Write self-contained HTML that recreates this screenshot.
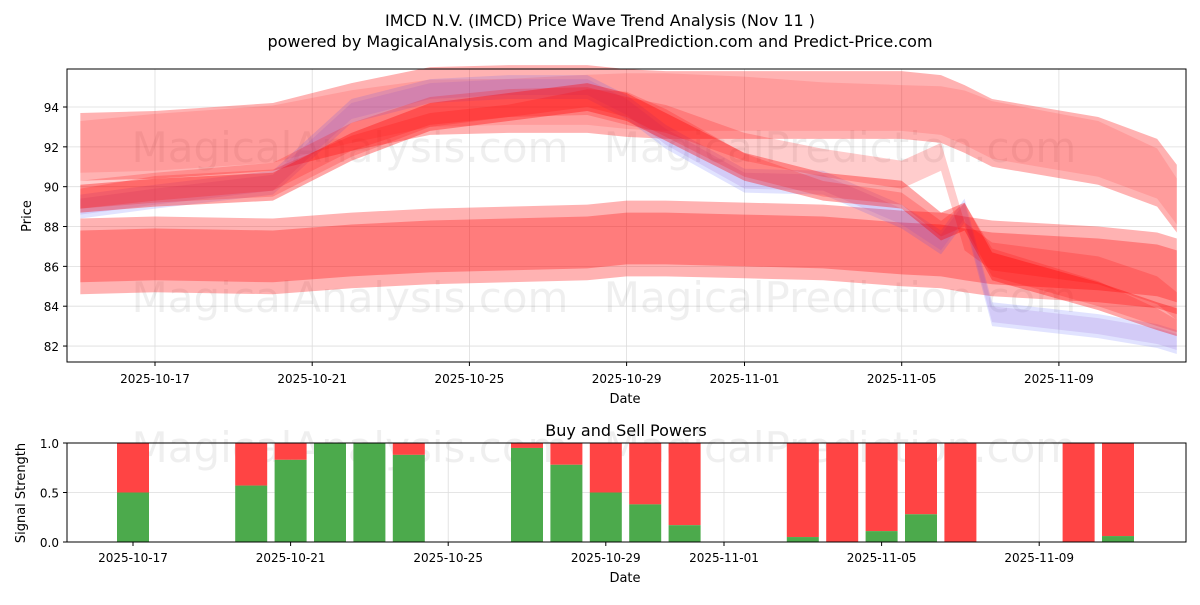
<!DOCTYPE html>
<html><head><meta charset="utf-8">
<style>
body{margin:0;background:#fff;font-family:"Liberation Sans","DejaVu Sans",sans-serif;}
svg text{font-family:"DejaVu Sans","Liberation Sans",sans-serif;fill:#000;}
</style></head>
<body>
<svg id="c" width="1200" height="600" xmlns="http://www.w3.org/2000/svg">
<text x="600" y="26" text-anchor="middle" font-size="16">IMCD N.V. (IMCD) Price Wave Trend Analysis (Nov 11 )</text>
<text x="600" y="47" text-anchor="middle" font-size="16">powered by MagicalAnalysis.com and MagicalPrediction.com and Predict-Price.com</text>
<g id="topg"></g>
<g id="botg"></g>
</svg>
<script>
// ---- data ----
const tickDays=[0,4,8,12,15,19,23];
const tickLabels=["2025-10-17","2025-10-21","2025-10-25","2025-10-29","2025-11-01","2025-11-05","2025-11-09"];
const priceTicks=[82,84,86,88,90,92,94];
const bandDays=[-1.9,0,3,5,7,9,11,12,13,15,17,19,20,20.6,21.3,24,25.5,26];
const bandUpper=[92,92.1,92.5,93.5,94.3,94.4,94.4,94.2,94.1,94.1,94.1,94.1,93.9,93.4,92.7,91.8,90.7,89.4];
const bandLower=[86.5,86.6,86.5,86.8,87,87.1,87.2,87.4,87.4,87.3,87.2,86.9,86.8,86.6,86.4,86.1,85.8,85.5];
const bandMid=[89.4,89.7,90,92,93.5,94,94.5,94,93,91,90,89.6,88,88.5,86,84.5,83.5,83.2];
const bandBlue=[89,89.5,90.2,93.8,94.8,95,95,94,92.5,90.3,90.2,88.5,87.2,88.8,83.6,83,82.5,82.2];
const bandRed2=[89.6,90,90.5,92.5,93.8,94.2,94.3,93.8,93.4,92,91.2,90.6,91.5,87.5,86.5,85.8,84.8,84];
const buyDays=[0,3,4,5,6,7,10,11,12,13,14,17,18,19,20,21,24,25];
const buyVals=[0.5,0.57,0.83,1,1,0.88,0.95,0.78,0.5,0.38,0.17,0.05,0,0.11,0.28,0,0,0.06];
// ---- scales ----
const NS="http://www.w3.org/2000/svg";
const X0=67,X1=1186,TY0=69,TY1=362,BY0=443,BY1=542;
const xt=d=>155+d*39.3;
const yt=v=>107+(94-v)*19.92;
const xb=d=>133+d*39.4;
const yb=v=>BY1-v*(BY1-BY0);
function el(tag,attrs,parent,txt){const e=document.createElementNS(NS,tag);for(const k in attrs)e.setAttribute(k,attrs[k]);if(txt!==undefined)e.textContent=txt;parent.appendChild(e);return e;}
const gTop=document.getElementById('topg'),gBot=document.getElementById('botg');
priceTicks.forEach(v=>{el('line',{x1:X0,x2:X1,y1:yt(v),y2:yt(v),stroke:'#ddd','stroke-width':0.8},gTop);
 const t=el('text',{x:X0-8,y:yt(v)+5,'text-anchor':'end','font-size':12},gTop,String(v));
 
 });
tickDays.forEach((d,i)=>{el('line',{x1:xt(d),x2:xt(d),y1:TY0,y2:TY1,stroke:'#ddd','stroke-width':0.8},gTop);
 el('line',{x1:xt(d),x2:xt(d),y1:TY1,y2:TY1+4,stroke:'#000'},gTop);
 const t=el('text',{x:xt(d),y:TY1+21,'text-anchor':'middle','font-size':12},gTop,tickLabels[i]);
 
 });
[[350,162],[840,162],[350,312],[840,312],[350,462],[840,462]].forEach(p=>{el('text',{x:p[0],y:p[1],'text-anchor':'middle','font-size':42,style:'fill:#000;opacity:0.06'},gTop,p[0]<500?'MagicalAnalysis.com':'MagicalPrediction.com');});
function band(vals,hw,color,op,shift){
 const up=bandDays.map((d,i)=>xt(d)+','+yt(vals[i]+hw+(shift||0)*Math.sin(i)));
 const dn=bandDays.map((d,i)=>xt(d)+','+yt(vals[i]-hw)).reverse();
 const p=el('polygon',{points:up.concat(dn).join(' '),fill:color,'fill-opacity':op},gTop);
 
 }
band(bandUpper,1.7,'#ff0000',0.3);
band(bandUpper,1.3,'#ff0000',0.12,0.3);
band(bandLower,1.9,'#ff0000',0.3);
band(bandLower,1.3,'#ff0000',0.3);
band(bandBlue,0.6,'#3344ff',0.15);
band(bandBlue,0.4,'#8844cc',0.15);
band(bandRed2,0.7,'#ff0000',0.2);
band(bandMid,0.7,'#ff0000',0.35);
band(bandMid,0.5,'#ff0000',0.2,0.4);
el('rect',{x:X0,y:TY0,width:X1-X0,height:TY1-TY0,fill:'none',stroke:'#000','stroke-width':1},gTop);
priceTicks.forEach(v=>el('line',{x1:X0-4,x2:X0,y1:yt(v),y2:yt(v),stroke:'#000'},gTop));
const xa=el('text',{x:625,y:403,'text-anchor':'middle','font-size':13},gTop,'Date');

const ya=el('text',{x:31,y:216,'text-anchor':'middle','font-size':13,transform:'rotate(-90 31 216)'},gTop,'Price');

const st=el('text',{x:626,y:436,'text-anchor':'middle','font-size':16},gBot,'Buy and Sell Powers');

[0,0.5,1].forEach(v=>{el('line',{x1:X0,x2:X1,y1:yb(v),y2:yb(v),stroke:'#ddd','stroke-width':0.8},gBot);
 el('line',{x1:X0-4,x2:X0,y1:yb(v),y2:yb(v),stroke:'#000'},gBot);
 el('text',{x:X0-8,y:yb(v)+5,'text-anchor':'end','font-size':12},gBot,v.toFixed(1));});
tickDays.forEach((d,i)=>{el('line',{x1:xb(d),x2:xb(d),y1:BY0,y2:BY1,stroke:'#ddd','stroke-width':0.8},gBot);
 el('line',{x1:xb(d),x2:xb(d),y1:BY1,y2:BY1+4,stroke:'#000'},gBot);
 el('text',{x:xb(d),y:BY1+20,'text-anchor':'middle','font-size':12},gBot,tickLabels[i]);});
buyDays.forEach((d,i)=>{const v=buyVals[i];
 const r=el('rect',{x:xb(d)-16,y:yb(1),width:32,height:yb(v)-yb(1),fill:'#ff4444'},gBot);
 
 
 const g=el('rect',{x:xb(d)-16,y:yb(v),width:32,height:yb(0)-yb(v),fill:'#4caa4c'},gBot);
 
 });
el('rect',{x:X0,y:BY0,width:X1-X0,height:BY1-BY0,fill:'none',stroke:'#000','stroke-width':1},gBot);
const xb2=el('text',{x:625,y:582,'text-anchor':'middle','font-size':13},gBot,'Date');

const yb2=el('text',{x:25,y:493,'text-anchor':'middle','font-size':13,transform:'rotate(-90 25 493)'},gBot,'Signal Strength');

</script>
</body></html>
